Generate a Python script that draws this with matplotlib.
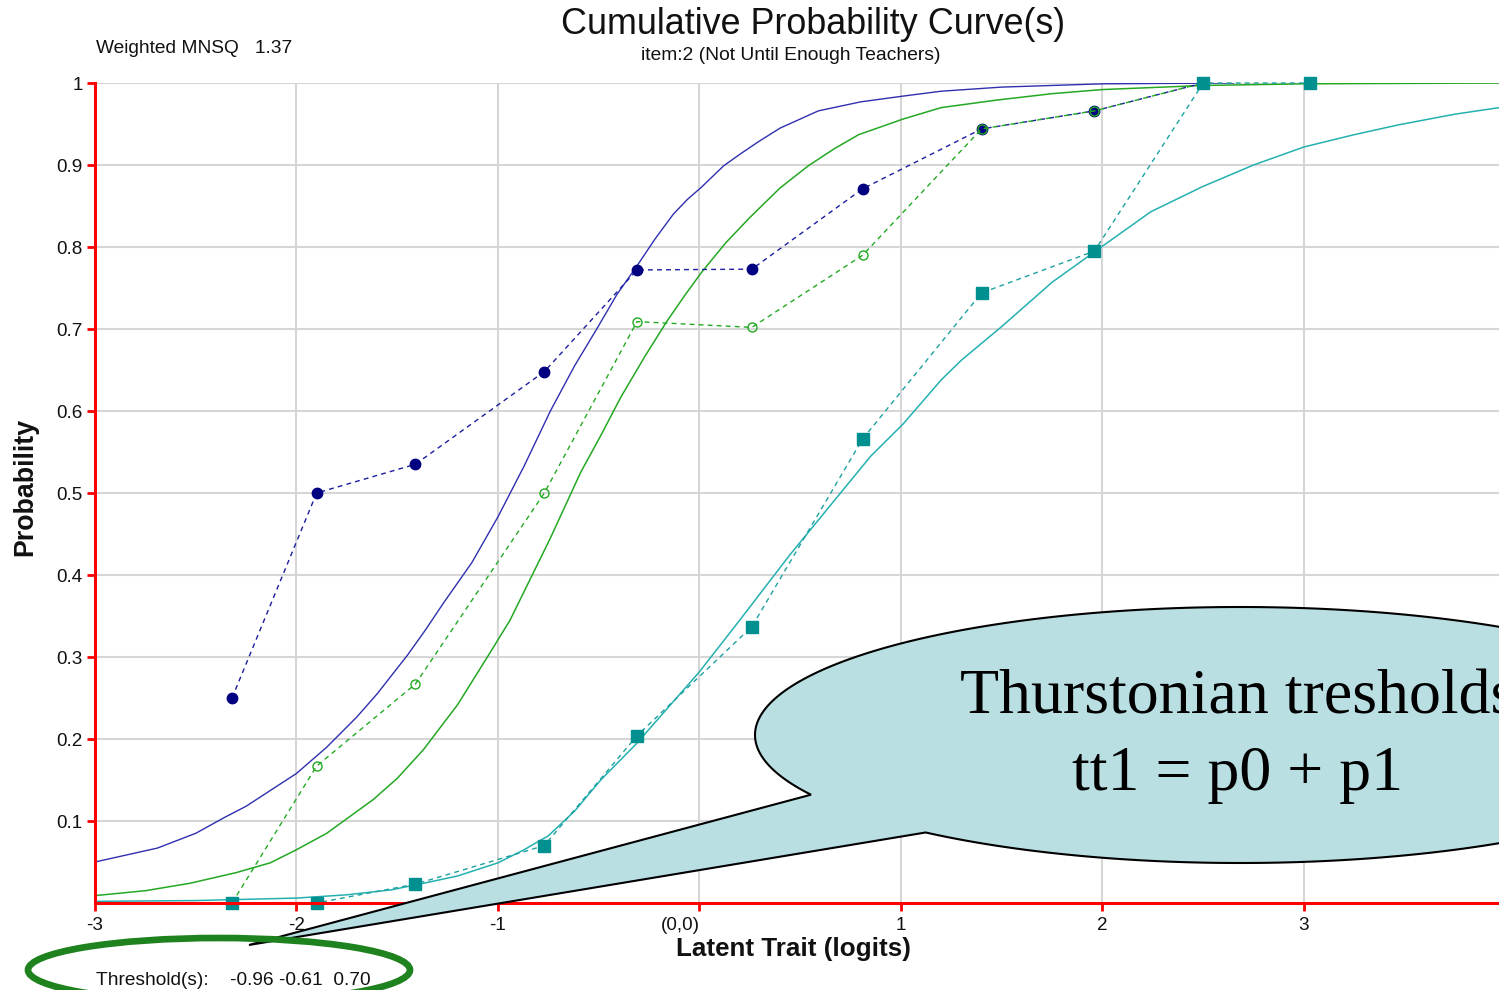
import numpy as np
import matplotlib
matplotlib.use("Agg")
import matplotlib.pyplot as plt
from matplotlib.patches import Polygon, Ellipse

plt.rcParams['font.family'] = ['Liberation Sans', 'DejaVu Sans']

# ---------------- data ----------------
# observed (empirical) points
obs_x = [-2.32, -1.90, -1.41, -0.77, -0.31, 0.26, 0.81, 1.40, 1.96, 2.50]
obs_blue = [0.25, 0.50, 0.535, 0.648, 0.772, 0.773, 0.871, 0.944, 0.966, 1.0]
obs_green = [0.0, 0.167, 0.267, 0.50, 0.709, 0.702, 0.79, 0.944, 0.966, 1.0]
obs_teal_x = [-2.32, -1.90, -1.41, -0.77, -0.31, 0.26, 0.81, 1.40, 1.96, 2.50, 3.03]
obs_teal = [0.0, 0.0, 0.023, 0.07, 0.204, 0.337, 0.566, 0.744, 0.795, 1.0, 1.0]

# model cumulative curves
blue_x = [-3.0, -2.69, -2.5, -2.36, -2.25, -2.0, -1.85, -1.70, -1.6, -1.45, -1.36,
          -1.27, -1.13, -1.0, -0.87, -0.74, -0.62, -0.51, -0.41, -0.31, -0.22,
          -0.13, -0.06, 0.01, 0.12, 0.2, 0.29, 0.4, 0.59, 0.8, 1.01, 1.2, 1.5,
          2.0, 2.65]
model_blue = [0.050, 0.067, 0.085, 0.104, 0.118, 0.158, 0.19, 0.227, 0.255, 0.302,
              0.333, 0.366, 0.415, 0.471, 0.533, 0.60, 0.655, 0.70, 0.742, 0.777,
              0.81, 0.84, 0.858, 0.873, 0.899, 0.913, 0.928, 0.945, 0.966, 0.977,
              0.984, 0.99, 0.995, 0.999, 1.0]
green_x = [-3.0, -2.75, -2.53, -2.3, -2.13, -2.0, -1.85, -1.62, -1.5, -1.37, -1.2,
           -1.04, -0.94, -0.84, -0.74, -0.59, -0.49, -0.39, -0.27, -0.16, -0.07,
           0.01, 0.13, 0.25, 0.4, 0.54, 0.67, 0.79, 1.01, 1.2, 1.47, 1.75, 2.0,
           2.5, 3.0, 3.97]
model_green = [0.009, 0.015, 0.024, 0.037, 0.049, 0.065, 0.085, 0.126, 0.152, 0.187,
               0.242, 0.305, 0.345, 0.395, 0.445, 0.525, 0.57, 0.617, 0.667, 0.71,
               0.742, 0.769, 0.805, 0.836, 0.872, 0.899, 0.92, 0.937, 0.956, 0.97,
               0.979, 0.987, 0.992, 0.997, 0.999, 1.0]
teal_x = [-3.0, -2.5, -2.0, -1.75, -1.53, -1.37, -1.2, -1.0, -0.87, -0.75, -0.62,
          -0.49, -0.31, -0.15, 0.0, 0.2, 0.45, 0.7, 0.85, 1.01, 1.2, 1.3, 1.5,
          1.75, 1.96, 2.24, 2.5, 2.75, 3.0, 3.25, 3.47, 3.75, 3.97]
model_teal = [0.002, 0.003, 0.006, 0.010, 0.016, 0.024, 0.033, 0.049, 0.065, 0.082,
              0.112, 0.15, 0.195, 0.24, 0.282, 0.345, 0.425, 0.50, 0.545, 0.584,
              0.638, 0.662, 0.703, 0.757, 0.794, 0.843, 0.874, 0.90, 0.922, 0.937,
              0.949, 0.962, 0.97]

x_ticks = [-3, -2, -1, 0, 1, 2, 3]
x_ticklabels = ['-3', '-2', '-1', '(0,0)', '1', '2', '3']
y_ticks = [0.1, 0.2, 0.3, 0.4, 0.5, 0.6, 0.7, 0.8, 0.9, 1.0]
y_ticklabels = ['0.1', '0.2', '0.3', '0.4', '0.5', '0.6', '0.7', '0.8', '0.9', '1']

# ---------------- figure ----------------
W, H = 1499, 990
fig = plt.figure(figsize=(W / 100, H / 100), dpi=100)
fig.patch.set_facecolor('white')

ax = fig.add_axes([95 / W, 1 - 903 / H, (W - 95) / W, (903 - 83) / H])
ax.set_xlim(-3, 3.968)
ax.set_ylim(0, 1)

for s in ['top', 'right']:
    ax.spines[s].set_visible(False)
for s in ['left', 'bottom']:
    ax.spines[s].set_color('#ff0000')
    ax.spines[s].set_linewidth(2.2)
    ax.spines[s].set_zorder(6)

ax.set_xticks(x_ticks)
ax.set_xticklabels(x_ticklabels)
ax.set_yticks(y_ticks)
ax.set_yticklabels(y_ticklabels)
ax.tick_params(axis='both', colors='#ff0000', labelcolor='#111111', width=2,
               length=6, direction='out', labelsize=13.6)
ax.tick_params(axis='x', pad=4)
ax.tick_params(axis='y', pad=3)
for lbl in ax.get_xticklabels():
    if lbl.get_text() == '(0,0)':
        lbl.set_horizontalalignment('right')

ax.grid(True, color='#d6d6d6', linewidth=1.5, zorder=0)
ax.set_axisbelow(True)

# model curves
ax.plot(blue_x, model_blue, color='#2f2fb0', lw=1.0, zorder=2)
ax.plot(green_x, model_green, color='#24a824', lw=1.1, zorder=2)
ax.plot(teal_x, model_teal, color='#25b0b0', lw=1.1, zorder=2)

dash = (3.5, 3.0)
# observed
ax.plot(obs_x, obs_blue, color='#1c1ca0', lw=1.0, ls=(0, dash), marker='o',
        ms=7.5, mfc='#000080', mec='#000080', zorder=3, clip_on=False)
ax.plot(obs_x, obs_green, color='#22aa22', lw=1.0, ls=(0, dash), marker='o',
        ms=6.5, mfc='none', mec='#22aa22', mew=1.0, zorder=4, clip_on=False)
ax.plot(obs_teal_x, obs_teal, color='#1ea0a0', lw=1.0, ls=(0, dash), marker='s',
        ms=8, mfc='#009090', mec='#009090', zorder=5, clip_on=False)

# texts
fig.text(813 / W, 1 - 24 / H, 'Cumulative Probability Curve(s)', ha='center',
         va='center', fontsize=25.8, color='#111111')
fig.text(791 / W, 1 - 55 / H, 'item:2 (Not Until Enough Teachers)', ha='center',
         va='center', fontsize=13.9, color='#111111')
fig.text(96 / W, 1 - 53 / H, 'Weighted MNSQ   1.37', ha='left', va='baseline',
         fontsize=13.8, color='#111111')
fig.text(96 / W, 1 - 985 / H, 'Threshold(s):    -0.96 -0.61  0.70', ha='left',
         va='baseline', fontsize=13.8, color='#111111')
fig.text(25 / W, 1 - 487 / H, 'Probability', rotation=90, ha='center',
         va='center', fontsize=19.3, fontweight='bold', color='#111111')
fig.text(793 / W, 1 - 949 / H, 'Latent Trait (logits)', ha='center',
         va='center', fontsize=18.7, fontweight='bold', color='#111111')

# ---------------- overlay annotations (pixel coords) ----------------
ov = fig.add_axes([0, 0, 1, 1], zorder=10)
ov.set_xlim(0, W)
ov.set_ylim(H, 0)
ov.axis('off')
ov.patch.set_visible(False)

cx, cy, a, b = 1240, 735, 485, 128
t = np.radians(np.linspace(152.2, 490.4, 400))
px = cx + a * np.cos(t)
py = cy + b * np.sin(t)
pts = np.column_stack([px, py])
pts = np.vstack([pts, [[249, 945]]])
callout = Polygon(pts, closed=True, facecolor='#b9dfe3', edgecolor='black',
                  lw=1.5, clip_on=False)
ov.add_patch(callout)

ov.text(1238, 714, 'Thurstonian tresholds', ha='center', va='baseline',
        fontsize=46, family=['Liberation Serif', 'DejaVu Serif'], color='black')
ov.text(1238, 790, 'tt1 = p0 + p1', ha='center', va='baseline',
        fontsize=46, family=['Liberation Serif', 'DejaVu Serif'], color='black')

green_ell = Ellipse((219, 970), 382, 64, facecolor='none', edgecolor='#1e821e',
                    lw=4.8, clip_on=False)
ov.add_patch(green_ell)

fig.savefig('out.png', dpi=100)
